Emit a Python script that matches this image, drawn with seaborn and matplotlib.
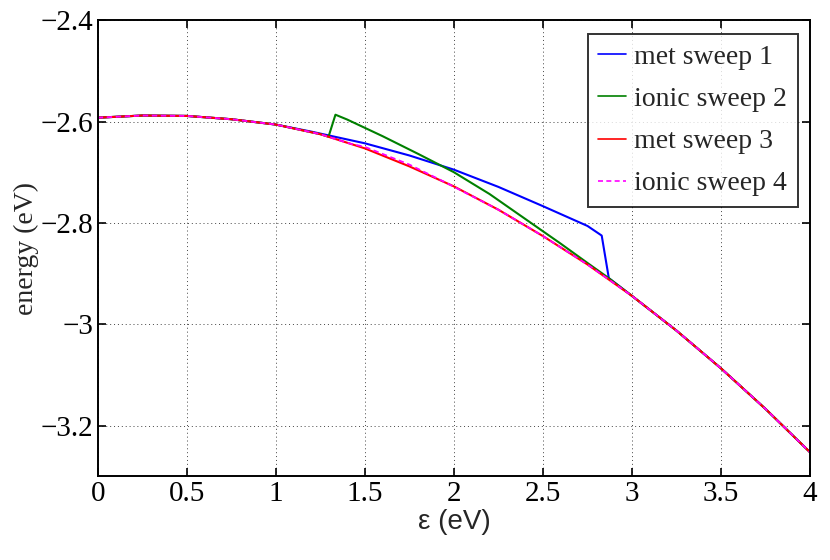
import pandas as pd
import matplotlib
matplotlib.use("Agg")
import matplotlib.pyplot as plt
import seaborn as sns

# values
eps = [0, 0.25, 0.5, 0.75, 1.0, 1.25, 1.5, 1.75, 2.0, 2.25, 2.5, 2.75, 3.0, 3.25, 3.5, 3.75, 4.0]
base = [-2.5925, -2.5882, -2.5890, -2.5955, -2.6060, -2.6250, -2.6530, -2.6885, -2.7280,
        -2.7740, -2.8260, -2.8820, -2.9440, -3.0125, -3.0870, -3.1670, -3.2525]

met1_x = [0, 0.25, 0.5, 0.75, 1.0, 1.2, 1.5, 1.75, 2.0, 2.25, 2.5, 2.75, 2.83, 2.87,
          3.0, 3.25, 3.5, 3.75, 4.0]
met1_y = [-2.5925, -2.5882, -2.5890, -2.5955, -2.6060, -2.6200, -2.6430, -2.6670,
          -2.6950, -2.7290, -2.7670, -2.8060, -2.8250, -2.9090,
          -2.9440, -3.0125, -3.0870, -3.1670, -3.2525]

ion2_x = [0, 0.25, 0.5, 0.75, 1.0, 1.25, 1.296, 1.335, 1.4, 1.6, 1.8, 2.0, 2.2, 2.4, 2.6,
          2.75, 2.87, 3.0, 3.25, 3.5, 3.75, 4.0]
ion2_y = [-2.5925, -2.5882, -2.5890, -2.5955, -2.6060, -2.6250, -2.6300, -2.5866, -2.5960,
          -2.6290, -2.6640, -2.7000, -2.7430, -2.7920, -2.8410, -2.8790, -2.9090,
          -2.9440, -3.0125, -3.0870, -3.1670, -3.2525]

ion4_x = [0, 0.25, 0.5, 0.75, 1.0, 1.25, 1.42, 1.5, 1.75, 1.96, 2.25, 2.5, 2.75, 3.0, 3.25,
          3.5, 3.75, 4.0]
ion4_y = [-2.5925, -2.5882, -2.5890, -2.5955, -2.6060, -2.6250, -2.6440, -2.6500, -2.6850,
          -2.7215, -2.7740, -2.8260, -2.8820, -2.9440, -3.0125, -3.0870, -3.1670, -3.2525]

xticks = [0, 0.5, 1, 1.5, 2, 2.5, 3, 3.5, 4]
xlabels = ["0", "0.5", "1", "1.5", "2", "2.5", "3", "3.5", "4"]
yticks = [-3.2, -3.0, -2.8, -2.6, -2.4]
ylabels = ["\u22123.2", "\u22123", "\u22122.8", "\u22122.6", "\u22122.4"]

sns.set_style("white")
plt.rcParams['font.family'] = ['Liberation Serif', 'DejaVu Serif']

fig = plt.figure(figsize=(8.3, 5.6), dpi=100)
ax = fig.add_axes([0.1177, 0.1493, 0.8583, 0.8148])

sns.lineplot(ax=ax, x=met1_x, y=met1_y, color=(0, 0, 1), lw=1.5, label="met sweep 1", sort=False)
sns.lineplot(ax=ax, x=ion2_x, y=ion2_y, color=(0, 0.5, 0), lw=1.5, label="ionic sweep 2", sort=False)
sns.lineplot(ax=ax, x=eps, y=base, color=(1, 0, 0), lw=1.5, label="met sweep 3", sort=False)
sns.lineplot(ax=ax, x=ion4_x, y=ion4_y, color=(1, 0, 1), lw=1.3, label="ionic sweep 4",
             sort=False, dashes=False, linestyle=(0, (3, 2)))

ax.set_xlim(0, 4)
ax.set_ylim(-3.3, -2.4)
ax.set_xticks(xticks)
ax.set_xticklabels(xlabels)
ax.set_yticks(yticks)
ax.set_yticklabels(ylabels)
ax.tick_params(direction='in', length=6, width=1.2, labelsize=21, top=True, right=True,
               bottom=True, left=True, pad=3, colors='black')
ax.grid(True, linestyle=(0, (1, 3)), color='#444444', linewidth=0.7)
for s in ax.spines.values():
    s.set_visible(True)
    s.set_color('black')
    s.set_linewidth(1.4)

ax.set_xlabel("\u03b5 (eV)", fontsize=20, family=['Liberation Sans', 'DejaVu Sans'], labelpad=2)
ax.set_ylabel("energy (eV)", fontsize=20, labelpad=1)

leg = ax.legend(loc='upper right', bbox_to_anchor=(0.9826, 0.9695), borderaxespad=0,
                fontsize=20, handlelength=1.0, handletextpad=0.3, labelspacing=0.6,
                fancybox=False, frameon=True, borderpad=0.38)
leg.get_frame().set_edgecolor('black')
leg.get_frame().set_linewidth(1.4)
for h in leg.get_lines():
    h.set_linewidth(1.2)

fig.savefig("out.png", dpi=100)
